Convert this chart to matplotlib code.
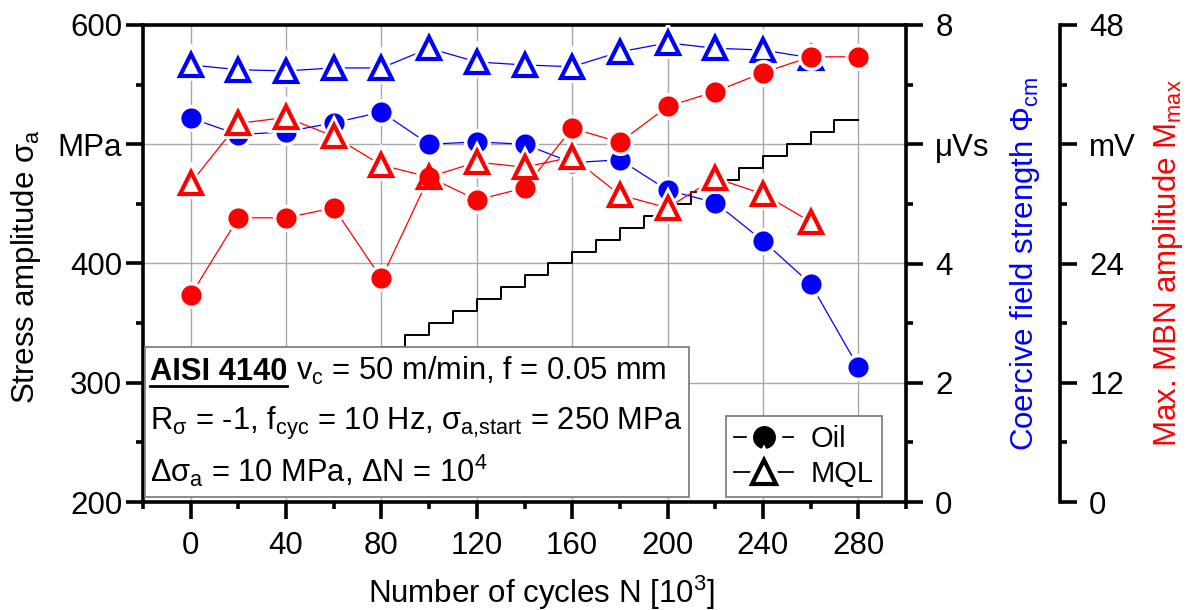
import matplotlib
matplotlib.use('Agg')
import matplotlib.pyplot as plt
from matplotlib.lines import Line2D
from matplotlib.patches import Rectangle
from matplotlib.ticker import MultipleLocator
from matplotlib.legend_handler import HandlerTuple

plt.rcParams['font.family'] = ['Liberation Sans', 'DejaVu Sans']
plt.rcParams['mathtext.fontset'] = 'custom'
plt.rcParams['mathtext.rm'] = 'Liberation Sans'
plt.rcParams['mathtext.it'] = 'Liberation Sans'
plt.rcParams['mathtext.bf'] = 'Liberation Sans:bold'

# ---------------- data ----------------
N_oil = [0, 20, 40, 60, 80, 100, 120, 140, 160, 180, 200, 220, 240, 260, 280]
N_mql = [0, 20, 40, 60, 80, 100, 120, 140, 160, 180, 200, 220, 240, 260]

coercive_oil = [6.44, 6.16, 6.21, 6.36, 6.54, 6.00, 6.04, 6.00, 5.69, 5.74,
                5.23, 5.02, 4.38, 3.66, 2.26]
coercive_mql = [7.33, 7.25, 7.23, 7.28, 7.28, 7.61, 7.38, 7.33, 7.30, 7.55,
                7.70, 7.61, 7.58, 7.45]
mbn_oil = [20.8, 28.6, 28.6, 29.6, 22.5, 32.7, 30.4, 31.6, 37.6, 36.2,
           39.8, 41.3, 43.2, 44.8, 44.8]
mbn_mql = [32.1, 38.1, 38.7, 36.8, 33.9, 32.7, 34.2, 33.7, 34.7, 30.9,
           29.6, 32.6, 31.0, 28.2]

step_N = [0, 10, 20, 30, 40, 50, 60, 70, 80, 90, 100, 110, 120, 130, 140,
          150, 160, 170, 180, 190, 200, 210, 220, 230, 240, 250, 260, 270, 280]
step_sigma = [250, 260, 270, 280, 290, 300, 310, 320, 330, 340, 350, 360, 370,
              380, 390, 400, 410, 420, 430, 440, 450, 460, 470, 480, 490, 500,
              510, 520, 520]

x_ticks = [0, 40, 80, 120, 160, 200, 240, 280]
y_left_ticks = [200, 300, 400, 500, 600]
y_left_labels = ['200', '300', '400', 'MPa', '600']
y_r1_ticks = [0, 2, 4, 6, 8]
y_r1_labels = ['0', '2', '4', 'μVs', '8']
y_r2_ticks = [0, 12, 24, 36, 48]
y_r2_labels = ['0', '12', '24', 'mV', '48']

BLUE = '#0000ff'
RED = '#ff0000'
W, H = 1192, 610
LFS = 22.5   # tick / axis label font size
FS = 22.2    # info box font size

fig = plt.figure(figsize=(W / 100, H / 100), dpi=100)
L, R, T, B = 143, 906, 25, 502
ax = fig.add_axes([L / W, 1 - B / H, (R - L) / W, (B - T) / H])
ax1 = ax.twinx()
ax2 = ax.twinx()

SPW = 2.6
# main axis
ax.set_xlim(-20, 300)
ax.set_ylim(200, 600)
ax.set_xticks(x_ticks)
ax.xaxis.set_minor_locator(MultipleLocator(20))
ax.set_yticks(y_left_ticks)
ax.set_yticklabels(y_left_labels)
ax.yaxis.set_minor_locator(MultipleLocator(50))
ax.grid(True, which='major', color='#a8a8a8', lw=1.0)
ax.set_axisbelow(True)
for s in ['left', 'bottom', 'top']:
    ax.spines[s].set_linewidth(SPW)
ax.spines['right'].set_visible(False)
ax.tick_params(axis='both', which='major', direction='out', length=12, width=SPW,
               labelsize=LFS)
ax.tick_params(axis='both', which='minor', direction='out', length=5, width=SPW)
ax.tick_params(axis='x', which='major', pad=9)
ax.tick_params(axis='y', which='major', pad=3)

ax.step(step_N, step_sigma, where='post', color='black', lw=1.4, zorder=2)

# right axis 1
ax1.set_ylim(0, 8)
ax1.set_yticks(y_r1_ticks)
ax1.set_yticklabels(y_r1_labels)
ax1.yaxis.set_minor_locator(MultipleLocator(1))
for s in ['left', 'bottom', 'top']:
    ax1.spines[s].set_visible(False)
ax1.spines['right'].set_linewidth(SPW)
ax1.tick_params(axis='y', which='major', direction='out', length=12, width=SPW,
                labelsize=LFS, pad=9)
ax1.tick_params(axis='y', which='minor', direction='out', length=5, width=SPW)

# right axis 2
ax2.set_ylim(0, 48)
ax2.spines['right'].set_position(('axes', (1060 - L) / (R - L)))
for s in ['left', 'bottom', 'top']:
    ax2.spines[s].set_visible(False)
ax2.spines['right'].set_linewidth(SPW)
ax2.set_yticks(y_r2_ticks)
ax2.set_yticklabels(y_r2_labels)
ax2.yaxis.set_minor_locator(MultipleLocator(6))
ax2.tick_params(axis='y', which='major', direction='out', length=12, width=SPW,
                labelsize=LFS, pad=9)
ax2.tick_params(axis='y', which='minor', direction='out', length=5, width=SPW)


def series(a, x, y, color, marker):
    a.plot(x, y, color=color, lw=0.9, zorder=2)
    if marker == 'o':
        a.plot(x, y, ls='none', marker='o', ms=14.5, mfc='white', mec='white',
               mew=5, zorder=3)
        a.plot(x, y, ls='none', marker='o', ms=14.5, mfc=color, mec=color,
               mew=0, zorder=4)
    else:
        a.plot(x, y, ls='none', marker='^', ms=15.5, mfc='white', mec='white',
               mew=7, zorder=3)
        a.plot(x, y, ls='none', marker='^', ms=15.5, mfc='white', mec=color,
               mew=3.0, zorder=4)


series(ax1, N_mql, coercive_mql, BLUE, '^')
series(ax1, N_oil, coercive_oil, BLUE, 'o')
series(ax2, N_mql, mbn_mql, RED, '^')
series(ax2, N_oil, mbn_oil, RED, 'o')

# axis labels
fig.text(34 / W, 1 - 267 / H, r'Stress amplitude $\sigma_\mathrm{a}$', rotation=90,
         rotation_mode='anchor', ha='center', va='baseline', fontsize=LFS)
fig.text(1033 / W, 1 - 264 / H, r'Coercive field strength $\Phi_\mathrm{cm}$',
         rotation=90, rotation_mode='anchor', ha='center', va='baseline',
         fontsize=LFS, color=BLUE)
fig.text(1176 / W, 1 - 263 / H, r'Max. MBN amplitude $M_\mathrm{max}$',
         rotation=90, rotation_mode='anchor', ha='center', va='baseline',
         fontsize=LFS, color=RED)
fig.text(541 / W, 1 - 603 / H, r'Number of cycles N [10$^3$]', ha='center',
         va='baseline', fontsize=LFS)

# info box
box = Rectangle((145 / W, 1 - 497 / H), (689 - 145) / W, (497 - 347) / H,
                transform=fig.transFigure, facecolor='white', edgecolor='#808080',
                lw=1.3, zorder=5)
fig.add_artist(box)
tb = fig.text(150 / W, 1 - 380 / H, 'AISI 4140', fontweight='bold', fontsize=FS,
              ha='left', va='baseline', zorder=6)
fig.canvas.draw()
bb = tb.get_window_extent(renderer=fig.canvas.get_renderer())
fig.add_artist(Line2D([bb.x0 / W, bb.x1 / W], [1 - 386 / H, 1 - 386 / H],
                      transform=fig.transFigure, color='black', lw=2.0, zorder=6))
fig.text((bb.x1 + 9) / W, 1 - 380 / H, r'v$_\mathrm{c}$ = 50 m/min, f = 0.05 mm',
         fontsize=FS, ha='left', va='baseline', zorder=6)
fig.text(150 / W, 1 - 430 / H,
         r'R$_\sigma$ = -1, f$_\mathrm{cyc}$ = 10 Hz, $\sigma_\mathrm{a{,}start}$ = 250 MPa',
         fontsize=FS, ha='left', va='baseline', zorder=6)
fig.text(150 / W, 1 - 482 / H,
         r'$\Delta\sigma_\mathrm{a}$ = 10 MPa, $\Delta$N = 10$^4$',
         fontsize=FS, ha='left', va='baseline', zorder=6)

# legend
h_oil = (Line2D([], [], color='black', lw=1.3),
         Line2D([], [], ls='none', marker='o', ms=16.5, mfc='white', mec='white', mew=9),
         Line2D([], [], ls='none', marker='o', ms=16.5, mfc='black', mec='black', mew=0))
h_mql = (Line2D([], [], color='black', lw=1.3),
         Line2D([], [], ls='none', marker='^', ms=17, mfc='white', mec='white', mew=10),
         Line2D([], [], ls='none', marker='^', ms=17, mfc='white', mec='black', mew=3.0))
leg = ax2.legend([h_oil, h_mql], ['Oil', 'MQL'],
                 handler_map={tuple: HandlerTuple(ndivide=1, pad=0)},
                 loc='lower right', bbox_to_anchor=((882 - L) / (R - L), (B - 497) / (B - T)),
                 borderaxespad=0, fontsize=21, frameon=True, fancybox=False,
                 edgecolor='#808080', framealpha=1, handlelength=2.0,
                 handletextpad=0.6, labelspacing=0.25, borderpad=0.3)
leg.get_frame().set_linewidth(1.3)
leg.set_zorder(10)

fig.savefig('out.png', dpi=100)
